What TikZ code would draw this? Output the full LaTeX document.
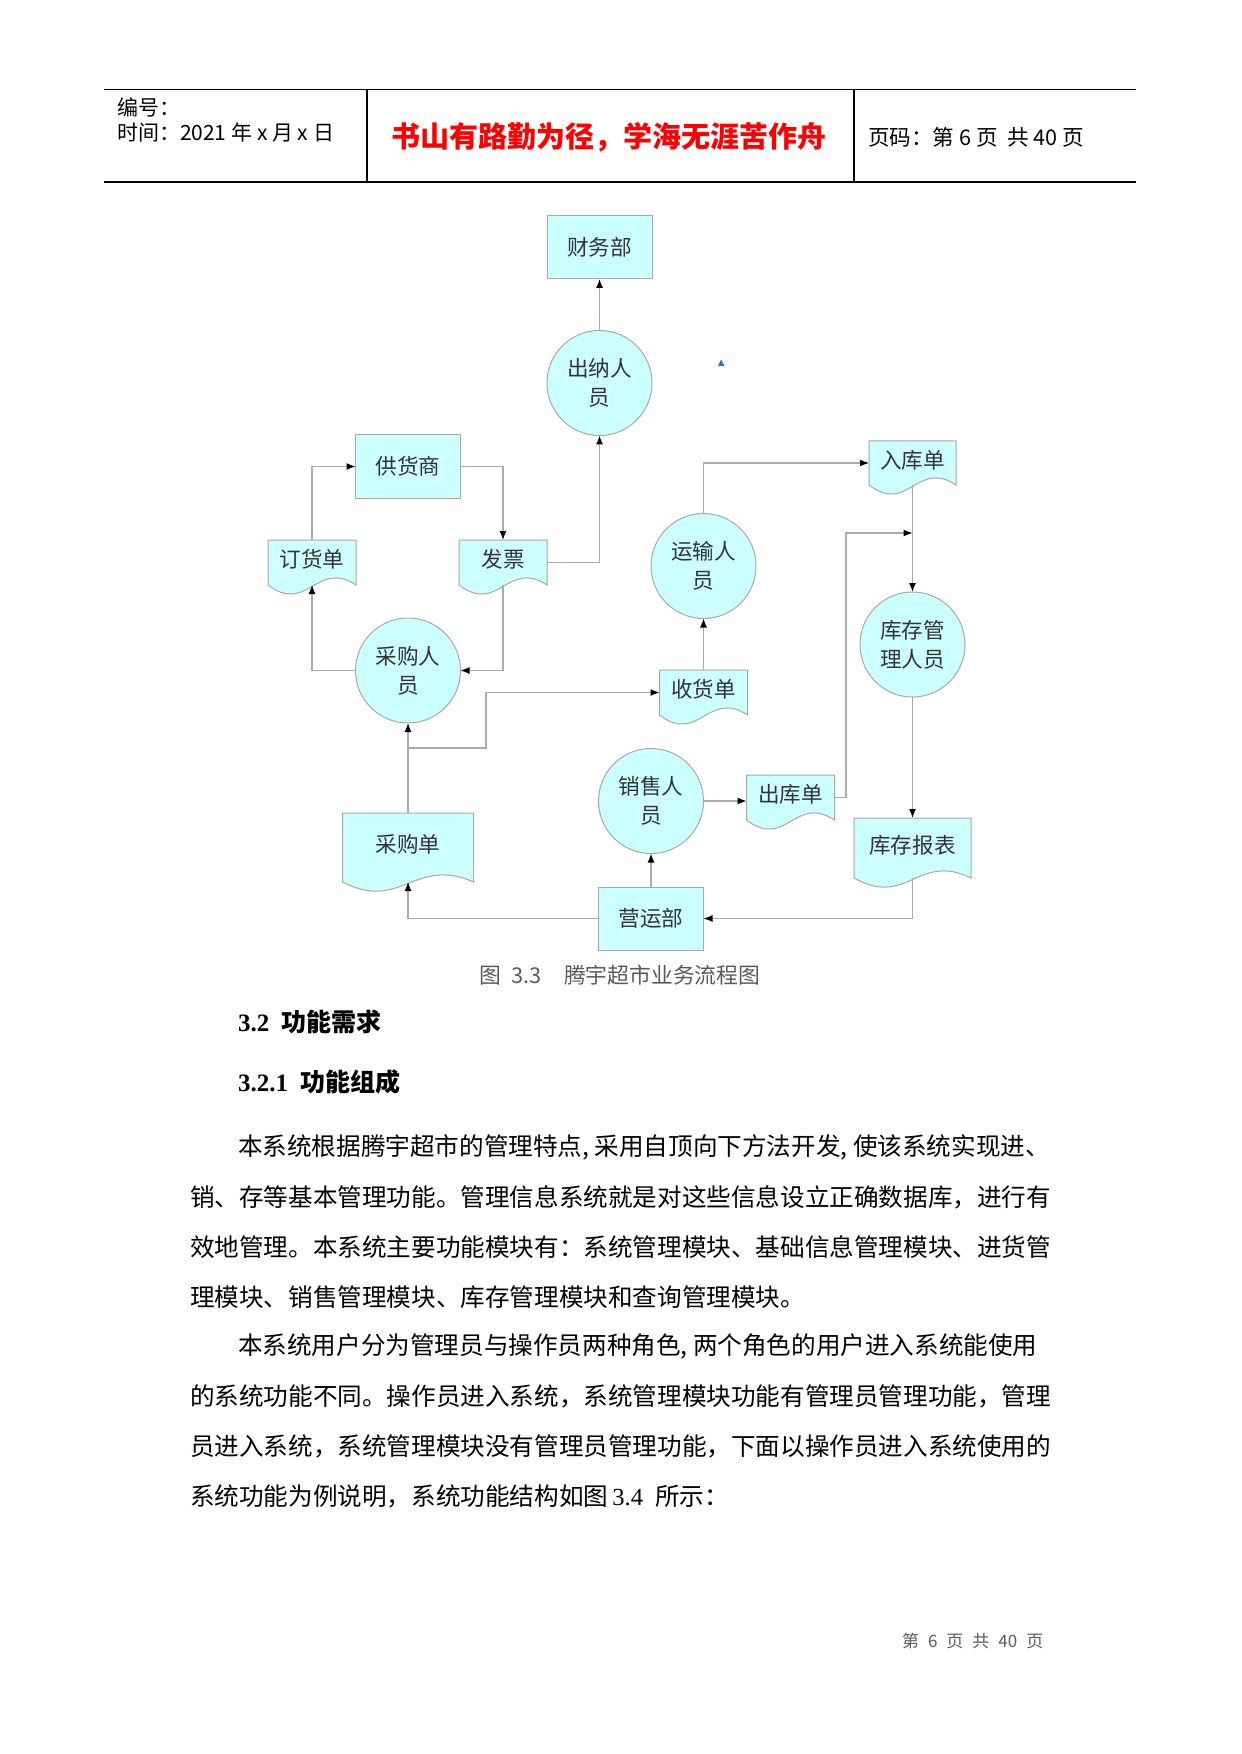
\documentclass[tikz,border=0pt]{standalone}
\usepackage{fontspec}
\setmainfont{Liberation Serif}
\newfontfamily\cjk{Noto Sans CJK SC}
\usetikzlibrary{arrows.meta,calc}
\pgfdeclarelayer{bg}
\pgfsetlayers{bg,main}
\definecolor{cy}{HTML}{CCFFFF}
\definecolor{bdr}{HTML}{A8A8A8}
\definecolor{ln}{HTML}{ABABAB}
\definecolor{txt}{HTML}{333333}
\definecolor{capc}{HTML}{5A5A5A}
\definecolor{tri}{HTML}{3A6BD0}
\newcommand\hc{\makebox[0.5em][l]{,}}
\newcommand\mkdoc[1]{%
  \begin{pgfonlayer}{bg}
  \draw[fl] (#1.north west) -- (#1.north east) -- (#1.south east)
    .. controls ($(#1.south east)!0.45!(#1.south west)+(0,-26)$)
    and ($(#1.south east)!0.55!(#1.south west)+(0,30)$) .. (#1.south west) -- cycle;
  \end{pgfonlayer}}
\begin{document}
\begin{tikzpicture}[x=0.5pt,y=-0.5pt,
  every node/.style={inner sep=0pt,outer sep=0pt},
  fl/.style={draw=bdr,fill=cy,line width=0.5pt},
  lbl/.style={font=\cjk\fontsize{10.8pt}{14.5pt}\selectfont,text=txt,align=center},
  boxn/.style={fl,lbl,rectangle,minimum width=52.5pt,minimum height=31.5pt},
  circ/.style={fl,lbl,circle,minimum size=52.5pt},
  docn/.style={lbl,rectangle,minimum width=44pt,minimum height=22.5pt,text height=9.5pt,text depth=4.3pt},
  arr/.style={draw=ln,line width=0.6pt,-{Latex[length=4.5pt,width=3.5pt,color=black]}},
  hdr/.style={anchor=west,font=\cjk\fontsize{10.5pt}{12pt}\selectfont},
  body/.style={anchor=west,font=\cjk\fontsize{12.3pt}{14pt}\selectfont},
]
\useasboundingbox (0,0) rectangle (1241,1754);

% ---------- header ----------
\draw[line width=0.9pt] (104,89.5) -- (1136,89.5);
\draw[line width=0.9pt] (104,182) -- (1136,182);
\draw[line width=1.2pt] (367,89.5) -- (367,182);
\draw[line width=0.6pt] (854,89.5) -- (854,182);
\node[hdr] (hd1) at (117,107) {编号：};
\node[hdr] (hd2) at (117,132) {时间：2021 年 x 月 x 日};
\node[font=\cjk\bfseries\fontsize{14.5pt}{16pt}\selectfont,text=red] (title) at (609,137) {书山有路勤为径，学海无涯苦作舟};
\node[hdr,font=\cjk\fontsize{10.8pt}{12pt}\selectfont] (pg) at (868,137) {页码：第 6 页\ \ 共 40 页};

% ---------- diagram nodes ----------
\node[boxn] (cwb) at (599.5,247.5) {财务部};
\node[circ] (cn) at (599.5,383) {出纳人\\员};
\node[boxn] (ghs) at (408,466.5) {供货商};
\node[docn] (dhd) at (312,562.5) {订货单};
\node[docn] (fp) at (503,562.5) {发票};
\node[circ] (ys) at (703.5,566) {运输人\\员};
\node[docn,minimum width=43.5pt,minimum height=22pt] (rkd) at (912.5,463) {入库单};
\node[circ] (kcgl) at (912.5,644.5) {库存管\\理人员};
\node[circ] (cgry) at (408,670.5) {采购人\\员};
\node[docn] (shd) at (703.5,692.5) {收货单};
\node[circ] (xs) at (651,801) {销售人\\员};
\node[docn] (ckd) at (790.5,797.5) {出库单};
\node[docn,minimum width=65.5pt,minimum height=34.5pt] (cgd) at (408,847.5) {采购单};
\node[docn,minimum width=58.5pt,minimum height=30pt] (kcbb) at (912.5,848) {库存报表};
\node[boxn] (yyb) at (651,918.5) {营运部};

\mkdoc{dhd}\mkdoc{fp}\mkdoc{rkd}\mkdoc{shd}\mkdoc{ckd}\mkdoc{cgd}\mkdoc{kcbb}

\fill[tri] (718,366) -- (724.5,366) -- (721.2,359.5) -- cycle;

% ---------- connectors ----------
\coordinate (br) at (408,748);
\coordinate (jog) at (486,748);
\coordinate (kin) at (912.5,533);
\coordinate (ojog) at (846,533);
\draw[arr] (cn) -- (cwb);
\draw[arr] (dhd.north) |- (ghs.west);
\draw[arr] (ghs.east) -| (fp.north);
\draw[arr] (fp.east) -| (cn.south);
\draw[arr] (fp.south) |- (cgry.east);
\draw[arr] (cgry.west) -| (dhd.south);
\draw[arr] (cgd) -- (cgry);
\draw[arr] (br) -- (jog) |- (shd.west);
\draw[arr] (shd) -- (ys);
\draw[arr] (ys.north) |- (rkd.west);
\draw[arr] (rkd) -- (kcgl);
\draw[arr] (kcgl) -- (kcbb);
\draw[arr] (kcbb.south) |- (yyb.east);
\draw[arr] (yyb) -- (xs);
\draw[arr] (yyb.west) -| (cgd.south);
\draw[arr] (xs.east) -- (xs.east -| ckd.west);
\draw[arr] (ckd.east) -| (ojog) -- (kin);

% ---------- caption & text ----------
\node[anchor=west,font=\cjk\fontsize{10.9pt}{12pt}\selectfont,text=capc] (cap) at (479,975) {图\hspace{5.5pt}3.3\hspace{11pt}腾宇超市业务流程图};
\node[anchor=west,font=\fontsize{12.5pt}{14pt}\selectfont] (h1) at (238,1022) {\bfseries 3.2\hspace{6pt}{\cjk\bfseries 功能需求}};
\node[anchor=west,font=\fontsize{12.5pt}{14pt}\selectfont] (h2) at (238,1082) {\bfseries 3.2.1\hspace{6pt}{\cjk\bfseries 功能组成}};

\node[body] (p1) at (238,1147) {本系统根据腾宇超市的管理特点\hc 采用自顶向下方法开发\hc 使该系统实现进、};
\node[body] (p2) at (190,1197) {销、存等基本管理功能。管理信息系统就是对这些信息设立正确数据库，进行有};
\node[body] (p3) at (190,1247) {效地管理。本系统主要功能模块有：系统管理模块、基础信息管理模块、进货管};
\node[body] (p4) at (190,1297) {理模块、销售管理模块、库存管理模块和查询管理模块。};
\node[body] (p5) at (238,1346) {本系统用户分为管理员与操作员两种角色\hc 两个角色的用户进入系统能使用};
\node[body] (p6) at (190,1396) {的系统功能不同。操作员进入系统，系统管理模块功能有管理员管理功能，管理};
\node[body] (p7) at (190,1446) {员进入系统，系统管理模块没有管理员管理功能，下面以操作员进入系统使用的};
\node[body] (p8) at (190,1496) {系统功能为例说明，系统功能结构如图{\rmfamily\,3.4}\hspace{0.5em}所示：};

\node[anchor=west,font=\cjk\fontsize{8.5pt}{10pt}\selectfont,text=capc] (ft) at (902,1641) {第\hspace{4.5pt}6\hspace{4.5pt}页\hspace{4.5pt}共\hspace{4.5pt}40\hspace{4.5pt}页};
\end{tikzpicture}
\end{document}
